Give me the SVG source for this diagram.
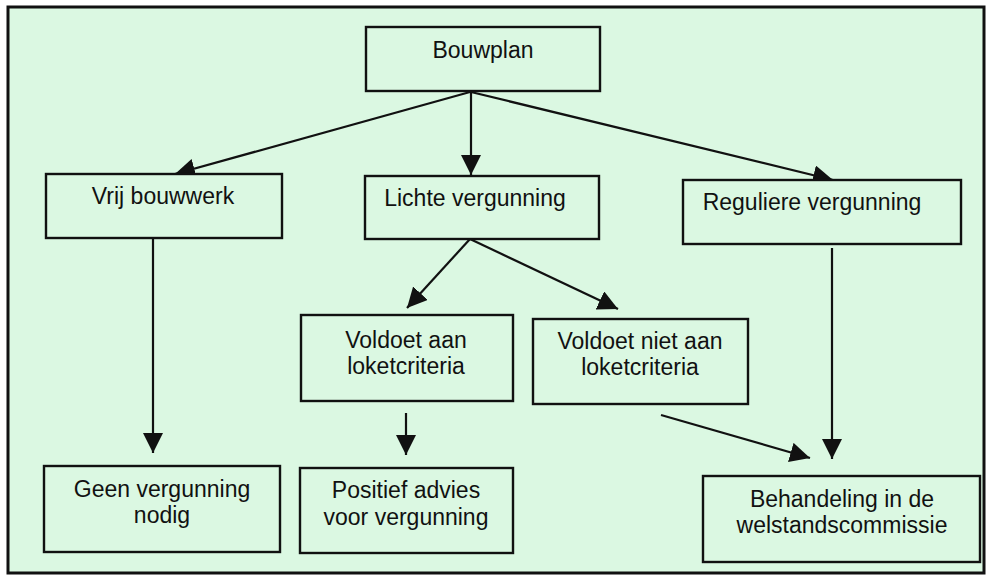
<svg xmlns="http://www.w3.org/2000/svg" width="992" height="579" viewBox="0 0 992 579">
<style>
.box{fill:#dbf8e2;stroke:#111;stroke-width:2.4}
.t{font-family:"Liberation Sans",Arial,sans-serif;font-size:23px;fill:#111;text-anchor:middle}
.c{stroke:#111;stroke-width:2.2;fill:none;marker-end:url(#ah)}
</style>
<defs>
<marker id="ah" markerUnits="userSpaceOnUse" markerWidth="22" markerHeight="22" viewBox="0 0 22 22" refX="20" refY="10" orient="auto">
<path d="M0,0 L20,10 L0,20 z" fill="#111"/>
</marker>
</defs>
<rect x="0" y="0" width="992" height="579" fill="#fff"/>
<rect x="8" y="7" width="976" height="566" fill="#dbf8e2" stroke="#111" stroke-width="3"/>
<g id="connectors">
<line class="c" x1="470" y1="92" x2="175" y2="174"/>
<line class="c" x1="471" y1="92" x2="471" y2="175"/>
<line class="c" x1="471" y1="92" x2="833" y2="180"/>
<line class="c" x1="153" y1="236" x2="153" y2="453"/>
<line class="c" x1="470" y1="239" x2="407" y2="308"/>
<line class="c" x1="470" y1="239" x2="618" y2="309"/>
<line class="c" x1="406" y1="413" x2="406" y2="455"/>
<line class="c" x1="661" y1="415" x2="810" y2="458"/>
<line class="c" x1="832" y1="248" x2="832" y2="459"/>
</g>
<g id="bouwplan"><rect class="box" x="366" y="27" width="234" height="64"/><text class="t" x="483" y="58">Bouwplan</text></g>
<g id="vrij"><rect class="box" x="46" y="174" width="236" height="64"/><text class="t" x="163" y="204">Vrij bouwwerk</text></g>
<g id="lichte"><rect class="box" x="365" y="176" width="234" height="63"/><text class="t" x="475" y="206">Lichte vergunning</text></g>
<g id="reguliere"><rect class="box" x="683" y="180" width="278" height="64"/><text class="t" x="812" y="210">Reguliere vergunning</text></g>
<g id="geen"><rect class="box" x="44" y="466" width="236" height="86"/><text class="t" x="162" y="497">Geen vergunning</text><text class="t" x="162" y="523">nodig</text></g>
<g id="voldoet"><rect class="box" x="301" y="315" width="212" height="86"/><text class="t" x="406" y="348">Voldoet aan</text><text class="t" x="406" y="374">loketcriteria</text></g>
<g id="voldoetniet"><rect class="box" x="533" y="319" width="215" height="85"/><text class="t" x="640" y="349">Voldoet niet aan</text><text class="t" x="640" y="375">loketcriteria</text></g>
<g id="positief"><rect class="box" x="300" y="468" width="213" height="85"/><text class="t" x="406" y="498">Positief advies</text><text class="t" x="406" y="525">voor vergunning</text></g>
<g id="behandeling"><rect class="box" x="703" y="476" width="277" height="86"/><text class="t" x="842" y="507">Behandeling in de</text><text class="t" x="842" y="533">welstandscommissie</text></g>
</svg>
